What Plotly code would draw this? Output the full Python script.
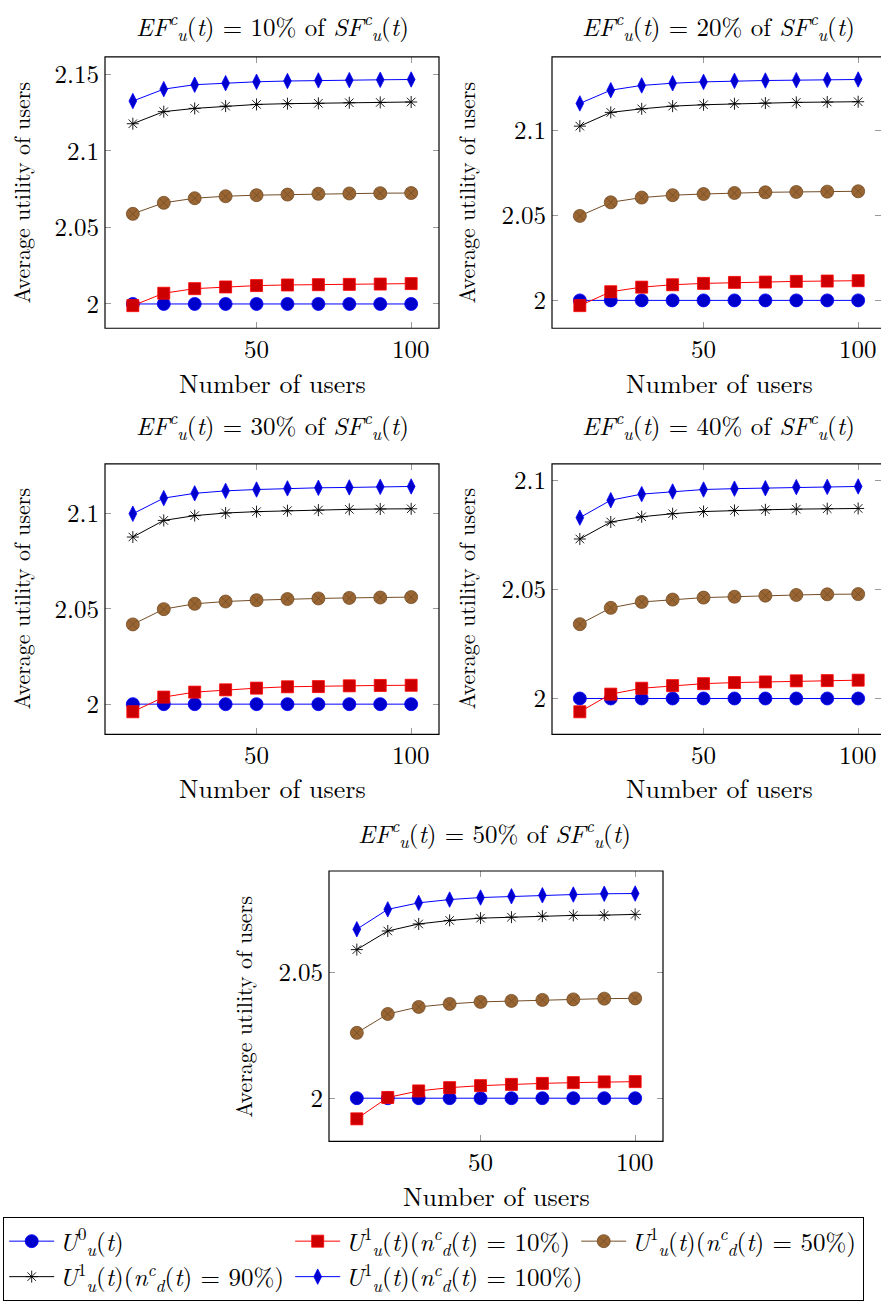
import plotly.graph_objects as go

W, H = 881, 1302

users = [10, 20, 30, 40, 50, 60, 70, 80, 90, 100]
ef_labels = ["10%", "20%", "30%", "40%", "50%"]

# EF = 10% of SF
u0_ef10 = [2.0, 2.0, 2.0, 2.0, 2.0, 2.0, 2.0, 2.0, 2.0, 2.0]
u1n10_ef10 = [1.9989, 2.0070, 2.0100, 2.0111, 2.0120, 2.0124, 2.0126, 2.0128, 2.0130, 2.0133]
u1n50_ef10 = [2.0589, 2.0661, 2.0691, 2.0704, 2.0711, 2.0715, 2.0720, 2.0722, 2.0724, 2.0725]
u1n90_ef10 = [2.1178, 2.1257, 2.1278, 2.1293, 2.1304, 2.1309, 2.1311, 2.1315, 2.1317, 2.1320]
u1n100_ef10 = [2.1326, 2.1404, 2.1433, 2.1443, 2.1452, 2.1457, 2.1461, 2.1463, 2.1465, 2.1467]

# EF = 20% of SF
u0_ef20 = [2.0, 2.0, 2.0, 2.0, 2.0, 2.0, 2.0, 2.0, 2.0, 2.0]
u1n10_ef20 = [1.9969, 2.0051, 2.0078, 2.0092, 2.0100, 2.0106, 2.0108, 2.0112, 2.0114, 2.0116]
u1n50_ef20 = [2.0498, 2.0578, 2.0606, 2.0620, 2.0627, 2.0633, 2.0637, 2.0639, 2.0641, 2.0643]
u1n90_ef20 = [2.1027, 2.1108, 2.1129, 2.1145, 2.1153, 2.1159, 2.1163, 2.1167, 2.1169, 2.1171]
u1n100_ef20 = [2.1161, 2.1239, 2.1267, 2.1280, 2.1288, 2.1294, 2.1296, 2.1298, 2.1300, 2.1302]

# EF = 30% of SF
u0_ef30 = [2.0, 2.0, 2.0, 2.0, 2.0, 2.0, 2.0, 2.0, 2.0, 2.0]
u1n10_ef30 = [1.9960, 2.0037, 2.0063, 2.0075, 2.0084, 2.0091, 2.0092, 2.0096, 2.0098, 2.0099]
u1n50_ef30 = [2.0418, 2.0498, 2.0526, 2.0538, 2.0545, 2.0551, 2.0554, 2.0557, 2.0559, 2.0561]
u1n90_ef30 = [2.0876, 2.0963, 2.0988, 2.1002, 2.1009, 2.1014, 2.1017, 2.1021, 2.1023, 2.1024]
u1n100_ef30 = [2.0998, 2.1080, 2.1105, 2.1118, 2.1125, 2.1131, 2.1134, 2.1136, 2.1139, 2.1141]

# EF = 40% of SF
u0_ef40 = [2.0, 2.0, 2.0, 2.0, 2.0, 2.0, 2.0, 2.0, 2.0, 2.0]
u1n10_ef40 = [1.9939, 2.0020, 2.0047, 2.0059, 2.0068, 2.0073, 2.0076, 2.0081, 2.0082, 2.0084]
u1n50_ef40 = [2.0341, 2.0416, 2.0443, 2.0454, 2.0463, 2.0467, 2.0472, 2.0475, 2.0478, 2.0479]
u1n90_ef40 = [2.0732, 2.0810, 2.0834, 2.0848, 2.0858, 2.0863, 2.0866, 2.0869, 2.0871, 2.0872]
u1n100_ef40 = [2.0830, 2.0910, 2.0938, 2.0950, 2.0959, 2.0963, 2.0965, 2.0970, 2.0971, 2.0973]

# EF = 50% of SF
u0_ef50 = [2.0, 2.0, 2.0, 2.0, 2.0, 2.0, 2.0, 2.0, 2.0, 2.0]
u1n10_ef50 = [1.9918, 2.0003, 2.0029, 2.0042, 2.0050, 2.0055, 2.0059, 2.0062, 2.0065, 2.0066]
u1n50_ef50 = [2.0260, 2.0335, 2.0363, 2.0375, 2.0383, 2.0387, 2.0391, 2.0393, 2.0396, 2.0397]
u1n90_ef50 = [2.0591, 2.0665, 2.0693, 2.0707, 2.0716, 2.0720, 2.0724, 2.0727, 2.0728, 2.0731]
u1n100_ef50 = [2.0672, 2.0751, 2.0777, 2.0790, 2.0798, 2.0803, 2.0807, 2.0810, 2.0813, 2.0814]

x_ticks = [50, 100]
y_ticks_ef10 = [2.0, 2.05, 2.1, 2.15]
y_ticks_ef20 = [2.0, 2.05, 2.1]
y_ticks_ef30 = [2.0, 2.05, 2.1]
y_ticks_ef40 = [2.0, 2.05, 2.1]
y_ticks_ef50 = [2.0, 2.05]

panels = [
    [u0_ef10, u1n10_ef10, u1n50_ef10, u1n90_ef10, u1n100_ef10],
    [u0_ef20, u1n10_ef20, u1n50_ef20, u1n90_ef20, u1n100_ef20],
    [u0_ef30, u1n10_ef30, u1n50_ef30, u1n90_ef30, u1n100_ef30],
    [u0_ef40, u1n10_ef40, u1n50_ef40, u1n90_ef40, u1n100_ef40],
    [u0_ef50, u1n10_ef50, u1n50_ef50, u1n90_ef50, u1n100_ef50],
]
panel_yticks = [y_ticks_ef10, y_ticks_ef20, y_ticks_ef30, y_ticks_ef40, y_ticks_ef50]

# pixel boxes (left, top, right, bottom)
boxes = [
    (105, 54, 439, 326),
    (552, 54, 886, 326),
    (105, 462, 439, 733),
    (552, 462, 886, 733),
    (329, 870, 663, 1141),
]
# (x center, y, vertical anchor)
title_pos = [(272, 0, "top"), (718, 0, "top"), (272, 422, "middle"), (718, 422, "middle"), (495, 831, "middle")]
xtitle_pos = [(272, 380), (719, 380), (272, 786), (719, 786), (496, 1195)]
ytitle_pos = [(21, 190), (466, 190), (21, 597), (466, 597), (243, 1006)]

it = lambda s: "<i>%s</i>" % s
names = [
    it("U") + "<sup>0</sup><sub>" + it("u") + "</sub>(" + it("t") + ")",
    it("U") + "<sup>1</sup><sub>" + it("u") + "</sub>(" + it("t") + ")(" + it("n") + "<sup>" + it("c") + "</sup><sub>" + it("d") + "</sub>(" + it("t") + ") = 10%)",
    it("U") + "<sup>1</sup><sub>" + it("u") + "</sub>(" + it("t") + ")(" + it("n") + "<sup>" + it("c") + "</sup><sub>" + it("d") + "</sub>(" + it("t") + ") = 50%)",
    it("U") + "<sup>1</sup><sub>" + it("u") + "</sub>(" + it("t") + ")(" + it("n") + "<sup>" + it("c") + "</sup><sub>" + it("d") + "</sub>(" + it("t") + ") = 90%)",
    it("U") + "<sup>1</sup><sub>" + it("u") + "</sub>(" + it("t") + ")(" + it("n") + "<sup>" + it("c") + "</sup><sub>" + it("d") + "</sub>(" + it("t") + ") = 100%)",
]
styles = [
    dict(line="#0000FF", fill="#0000CC", edge="#0000FF", symbol="circle", size=13, lw=0.8),
    dict(line="#FF0000", fill="#CC0000", edge="#FF0000", symbol="square", size=12, lw=0.8),
    dict(line="#734D26", fill="#996633", edge="#734D26", symbol="circle-x", size=13, lw=0.8),
    dict(line="#000000", fill="#000000", edge="#000000", symbol="asterisk-open", size=10, lw=0.9),
    dict(line="#0000FF", fill="#0000CC", edge="#0000FF", symbol="diamond-tall", size=11, lw=0.8),
]

FONT = "Latin Modern Roman"
fig = go.Figure()
annotations = []
shapes = []

for p, series in enumerate(panels):
    ax = "" if p == 0 else str(p + 1)
    L, T, R, B = boxes[p]
    xmin, xmax = min(users), max(users)
    xr = xmax - xmin
    x0, x1 = xmin - 0.1 * xr, xmax + 0.1 * xr
    allv = [v for s in series for v in s]
    ymin, ymax = min(allv), max(allv)
    yr = ymax - ymin
    y0, y1 = ymin - 0.1 * yr, ymax + 0.1 * yr
    Rc = min(R, W)
    x1c = x0 + (Rc - L) / (R - L) * (x1 - x0)
    for k, vals in enumerate(series):
        st = styles[k]
        fig.add_trace(go.Scatter(
            x=users, y=vals, mode="lines+markers", name=names[k],
            xaxis="x" + ax, yaxis="y" + ax, showlegend=(p == 0),
            line=dict(color=st["line"], width=1),
            marker=dict(symbol=st["symbol"], size=st["size"], color=st["fill"],
                        line=dict(color=st["edge"], width=st["lw"])),
            cliponaxis=False,
        ))
    common = dict(ticks="inside", ticklen=6, tickwidth=1, tickcolor="#9a9a9a",
                  mirror="ticks", showline=False, showgrid=False, zeroline=False,
                  tickfont=dict(family=FONT, size=25, color="black"))
    fig.layout["xaxis" + ax] = dict(
        domain=[L / W, Rc / W], range=[x0, x1c], anchor="y" + ax,
        tickvals=x_ticks, showticklabels=False, **common)
    yt = panel_yticks[p]
    fig.layout["yaxis" + ax] = dict(
        domain=[1 - B / H, 1 - T / H], range=[y0, y1], anchor="x" + ax,
        tickvals=yt, ticktext=[("%g" % v) for v in yt], ticklabelstandoff=5, **common)
    # x tick labels placed through the x axis scale
    for xv in x_ticks:
        annotations.append(dict(
            x=xv, xref="x" + ax, y=1 - (B + 19) / H, yref="paper", showarrow=False,
            xanchor="center", yanchor="middle", text=str(xv),
            font=dict(family=FONT, size=25, color="black")))
    shapes.append(dict(type="rect", xref="paper", yref="paper",
                       x0=L / W, x1=R / W, y0=1 - B / H, y1=1 - T / H,
                       line=dict(color="black", width=1.2), layer="above"))
    tx, ty, tanchor = title_pos[p]
    annotations.append(dict(
        x=tx / W, y=1 - ty / H, xref="paper", yref="paper", showarrow=False,
        xanchor="center", yanchor=tanchor,
        text=it("EF") + "<sup>" + it("c") + "</sup><sub>" + it("u") + "</sub>(" + it("t") + ") = "
             + ef_labels[p] + " of " + it("SF") + "<sup>" + it("c") + "</sup><sub>" + it("u") + "</sub>(" + it("t") + ")",
        font=dict(family=FONT, size=25, color="black")))
    xx, xy = xtitle_pos[p]
    annotations.append(dict(
        x=xx / W, y=1 - xy / H, xref="paper", yref="paper", showarrow=False,
        xanchor="center", yanchor="middle", text="Number of users",
        font=dict(family=FONT, size=26, color="black")))
    yx, yy = ytitle_pos[p]
    annotations.append(dict(
        x=yx / W, y=1 - yy / H, xref="paper", yref="paper", showarrow=False,
        xanchor="center", yanchor="middle", text="Average utility of users", textangle=-90,
        font=dict(family=FONT, size=22, color="black")))

fig.update_layout(
    width=W, height=H, margin=dict(l=0, r=0, t=0, b=0),
    paper_bgcolor="white", plot_bgcolor="white",
    font=dict(family=FONT, color="black"),
    annotations=annotations, shapes=shapes,
    legend=dict(orientation="h", x=3 / W, y=1 - 1217 / H, xanchor="left", yanchor="top",
                bordercolor="black", borderwidth=1.2, bgcolor="white",
                font=dict(family=FONT, size=25, color="black"),
                itemwidth=45, entrywidth=226, entrywidthmode="pixels",
                traceorder="normal", valign="middle"),
)

fig.write_html("out.html", config={"displayModeBar": False},
               post_script="document.body.style.margin='0';document.body.style.overflow='hidden';")
